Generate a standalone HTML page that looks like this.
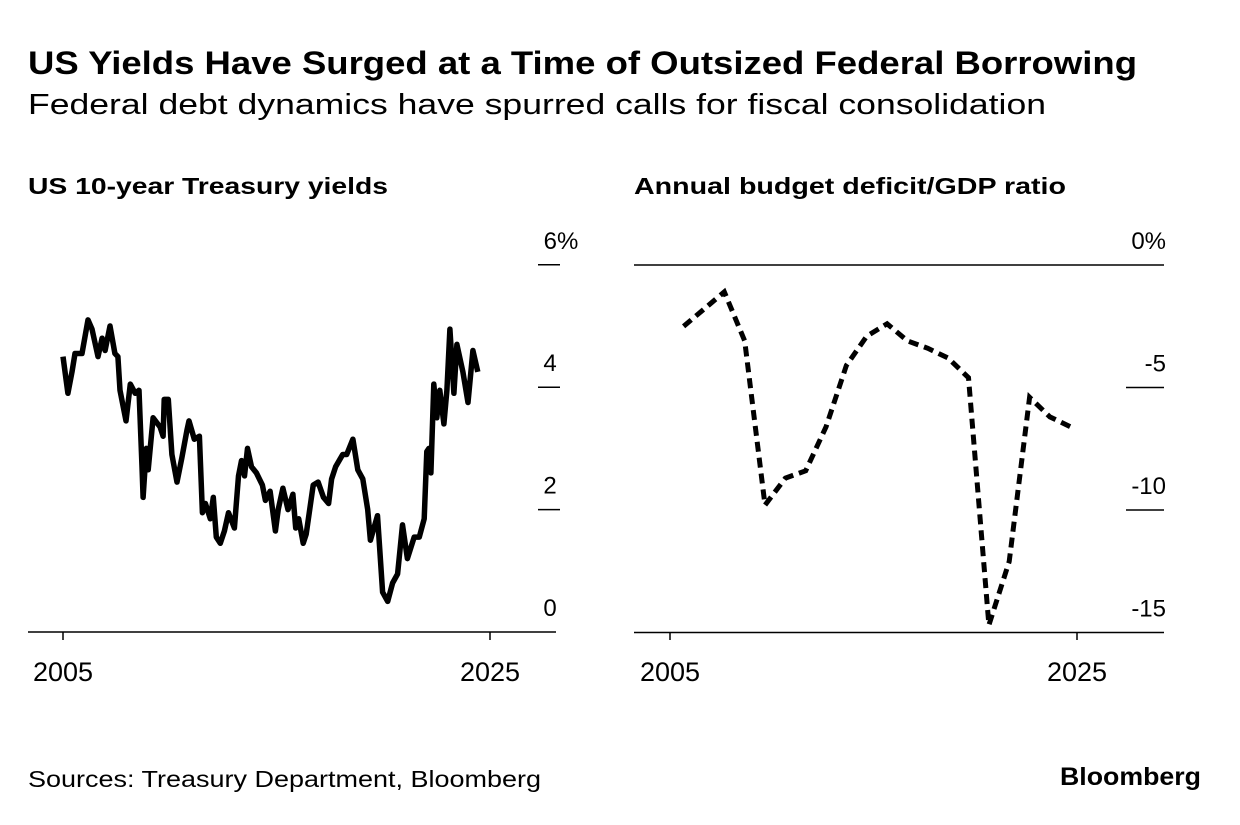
<!DOCTYPE html>
<html><head><meta charset="utf-8"><style>
body{margin:0;background:#fff;width:1240px;height:820px;overflow:hidden;font-family:"Liberation Sans",sans-serif;color:#000}
svg text{font-family:"Liberation Sans",sans-serif}
</style></head><body>
<svg width="1240" height="820">
<text x="28" y="74" font-size="32" font-weight="bold" textLength="1109" lengthAdjust="spacingAndGlyphs">US Yields Have Surged at a Time of Outsized Federal Borrowing</text>
<text x="28" y="114" font-size="29" textLength="1018" lengthAdjust="spacingAndGlyphs">Federal debt dynamics have spurred calls for fiscal consolidation</text>
<text x="28" y="194" font-size="23" font-weight="bold" textLength="360" lengthAdjust="spacingAndGlyphs">US 10-year Treasury yields</text>
<text x="634" y="194" font-size="23" font-weight="bold" textLength="432" lengthAdjust="spacingAndGlyphs">Annual budget deficit/GDP ratio</text>
<g id="left"></g>
<g id="right"></g>
<text x="28" y="787" font-size="23" textLength="513" lengthAdjust="spacingAndGlyphs">Sources: Treasury Department, Bloomberg</text>
<text x="1060" y="785" font-size="25" font-weight="bold" textLength="141" lengthAdjust="spacingAndGlyphs">Bloomberg</text>
</svg>
<script>
const yieldDates=[2005.0,2005.23,2005.42,2005.56,2005.89,2006.17,2006.36,2006.64,2006.83,2006.97,2007.2,2007.43,2007.57,2007.67,2007.95,2008.15,2008.38,2008.56,2008.7,2008.75,2008.9,2008.99,2009.22,2009.55,2009.69,2009.74,2009.93,2010.1,2010.34,2010.57,2010.81,2010.9,2011.15,2011.39,2011.53,2011.67,2011.9,2012.04,2012.18,2012.37,2012.56,2012.75,2013.03,2013.22,2013.36,2013.5,2013.64,2013.83,2014.06,2014.2,2014.34,2014.48,2014.7,2014.95,2015.08,2015.3,2015.54,2015.77,2015.9,2016.04,2016.25,2016.39,2016.72,2016.95,2017.2,2017.44,2017.58,2017.77,2018.1,2018.29,2018.58,2018.81,2019.04,2019.27,2019.4,2019.73,2019.97,2020.21,2020.44,2020.67,2020.9,2021.13,2021.45,2021.69,2021.92,2022.04,2022.14,2022.23,2022.37,2022.51,2022.65,2022.84,2022.98,2023.12,2023.31,2023.45,2023.73,2023.97,2024.2,2024.43,2024.67,2024.9];
const yieldValues=[4.5,3.9,4.25,4.55,4.55,5.1,4.95,4.5,4.8,4.6,5.0,4.55,4.5,3.95,3.45,4.05,3.9,3.95,2.7,2.2,3.0,2.65,3.5,3.35,3.2,3.8,3.8,2.9,2.45,2.85,3.3,3.45,3.15,3.2,1.95,2.1,1.85,2.2,1.55,1.45,1.65,1.95,1.7,2.55,2.8,2.55,3.0,2.7,2.6,2.5,2.4,2.15,2.3,1.65,2.0,2.35,2.0,2.25,1.7,1.85,1.45,1.6,2.4,2.45,2.2,2.1,2.5,2.7,2.9,2.9,3.15,2.65,2.5,2.0,1.5,1.9,0.65,0.5,0.8,0.95,1.75,1.2,1.55,1.55,1.85,2.95,3.0,2.6,4.05,3.5,3.95,3.4,3.95,4.95,3.9,4.7,4.25,3.75,4.6,4.25];
const yieldTicks=[0,2,4,6];
const yieldTickLabels=["0","2","4","6%"];
const deficitYears=[2005,2006,2007,2008,2009,2010,2011,2012,2013,2014,2015,2016,2017,2018,2019,2020,2021,2022,2023,2024];
const deficitValues=[-2.5,-1.8,-1.1,-3.1,-9.8,-8.7,-8.4,-6.6,-4.1,-2.9,-2.4,-3.1,-3.4,-3.8,-4.6,-14.7,-12.1,-5.4,-6.2,-6.6];
const deficitTicks=[0,-5,-10,-15];
const deficitTickLabels=["0%","-5","-10","-15"];
const xTickYears=[2005,2025];

const NS="http://www.w3.org/2000/svg";
function mk(p,t,a){const e=document.createElementNS(NS,t);for(const k in a)e.setAttribute(k,a[k]);p.appendChild(e);return e;}
const lx=y=>63+(y-2005)*21.35, ly=v=>632-v*61.2;
const L=document.getElementById('left');
let b=mk(L,'line',{x1:28,x2:556,y1:632,y2:632,stroke:'#000','stroke-width':1.5});


yieldTicks.forEach((v,i)=>{
 if(v>0){const t=mk(L,'line',{x1:538,x2:560,y1:ly(v),y2:ly(v),stroke:'#000','stroke-width':1.5});
 
 }
 const tx=mk(L,'text',{x:v==6?561:550,y:ly(v)-16,'font-size':24,'text-anchor':'middle'});tx.textContent=yieldTickLabels[i];
 
 
});
xTickYears.forEach(y=>{
 const t=mk(L,'line',{x1:lx(y),x2:lx(y),y1:632,y2:640,stroke:'#000','stroke-width':1.5});
 
 
 const tx=mk(L,'text',{x:lx(y),y:681,'font-size':27,'text-anchor':'middle'});tx.textContent=y;
 
 
});
const yl=mk(L,'path',{d:yieldDates.map((d,i)=>(i?'L':'M')+lx(d).toFixed(1)+','+ly(yieldValues[i]).toFixed(1)).join(''),fill:'none',stroke:'#000','stroke-width':5.5,'stroke-linejoin':'round'});


const rx=y=>670+(y-2005+0.67)*20.35, ry=v=>265-v*24.5;
const R=document.getElementById('right');
deficitTicks.forEach((v,i)=>{
 let t;
 if(v==0||v==-15){t=mk(R,'line',{x1:634,x2:1164,y1:ry(v),y2:ry(v),stroke:'#000','stroke-width':1.5});}
 else{t=mk(R,'line',{x1:1126,x2:1164,y1:ry(v),y2:ry(v),stroke:'#000','stroke-width':1.5});}
 
 
 const tx=mk(R,'text',{x:1166,y:ry(v)-16,'font-size':24,'text-anchor':'end'});tx.textContent=deficitTickLabels[i];
 
 
});
xTickYears.forEach(y=>{
 const px=670+(y-2005)*20.35;
 const t=mk(R,'line',{x1:px,x2:px,y1:632,y2:640,stroke:'#000','stroke-width':1.5});
 
 
 const tx=mk(R,'text',{x:px,y:681,'font-size':27,'text-anchor':'middle'});tx.textContent=y;
 
 
});
const dl=mk(R,'path',{d:deficitYears.map((d,i)=>(i?'L':'M')+rx(d).toFixed(1)+','+ry(deficitValues[i]).toFixed(1)).join(''),fill:'none',stroke:'#000','stroke-width':5,'stroke-dasharray':'10 6'});


</script>
</body></html>
